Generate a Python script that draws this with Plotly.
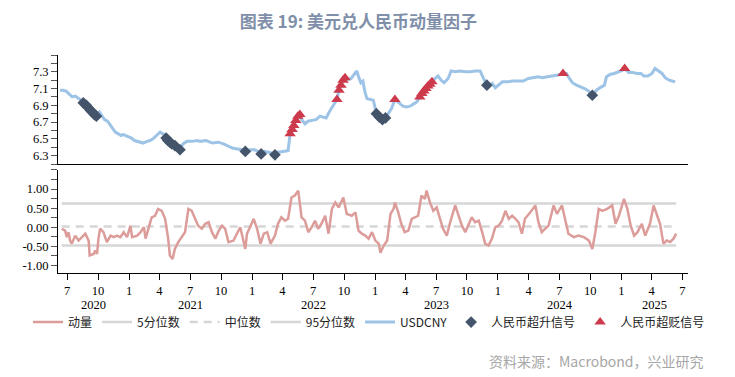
import plotly.graph_objects as go

# ---------------- data ----------------
usd_dates = (
    ["2020-06-10","2020-06-19","2020-06-28","2020-07-10","2020-07-16","2020-07-25","2020-08-03","2020-08-12","2020-08-18","2020-08-27",
     "2020-09-02","2020-09-08","2020-09-14","2020-09-20","2020-09-26","2020-10-05","2020-10-11","2020-10-20","2020-10-29","2020-11-07",
     "2020-11-16","2020-11-21","2020-11-30","2020-12-08","2020-12-15","2020-12-30"]
    + ["2021-01-08","2021-01-17","2021-01-29","2021-02-12","2021-02-23","2021-03-04","2021-03-13","2021-03-25","2021-04-03","2021-04-15",
       "2021-04-21","2021-04-26","2021-05-02","2021-05-08","2021-05-17","2021-05-26","2021-06-01","2021-06-10","2021-06-22","2021-07-07",
       "2021-07-22","2021-07-31","2021-08-18","2021-09-05","2021-09-23","2021-10-08","2021-10-22","2021-11-04","2021-11-18","2021-12-03",
       "2021-12-12","2021-12-27"]
    + ["2022-01-08","2022-01-20","2022-01-28","2022-02-07","2022-02-19","2022-03-01","2022-03-10","2022-03-19","2022-04-03","2022-04-18",
       "2022-04-24","2022-04-30","2022-05-05","2022-05-11","2022-05-17","2022-05-23","2022-05-28","2022-06-07","2022-06-16","2022-06-28",
       "2022-07-10","2022-07-22","2022-08-03","2022-08-09","2022-08-18","2022-08-27","2022-09-05","2022-09-10","2022-09-16","2022-09-22",
       "2022-09-28","2022-10-04","2022-10-13","2022-10-22","2022-10-31","2022-11-08","2022-11-14","2022-11-20","2022-11-26","2022-12-02",
       "2022-12-08","2022-12-18","2022-12-27"]
    + ["2023-01-05","2023-01-14","2023-01-23","2023-02-01","2023-02-10","2023-02-19","2023-03-01","2023-03-07","2023-03-16","2023-03-25",
       "2023-04-03","2023-04-15","2023-04-27","2023-05-05","2023-05-14","2023-05-20","2023-05-26","2023-06-01","2023-06-07","2023-06-13",
       "2023-06-19","2023-06-28","2023-07-07","2023-07-16","2023-07-25","2023-08-06","2023-08-15","2023-08-27","2023-09-11","2023-09-26",
       "2023-10-10","2023-10-25","2023-11-09","2023-11-18","2023-11-29","2023-12-06","2023-12-15","2023-12-24"]
    + ["2024-01-02","2024-01-14","2024-01-29","2024-02-13","2024-03-01","2024-03-16","2024-03-31","2024-04-15","2024-04-30","2024-05-11",
       "2024-05-26","2024-06-10","2024-06-25","2024-07-12","2024-07-22","2024-07-31","2024-08-09","2024-08-21","2024-09-02","2024-09-14",
       "2024-09-26","2024-10-07","2024-10-13","2024-10-22","2024-11-03","2024-11-12","2024-11-18","2024-11-30","2024-12-11","2024-12-23"]
    + ["2025-01-05","2025-01-11","2025-01-23","2025-02-04","2025-02-16","2025-02-28","2025-03-09","2025-03-21","2025-04-02","2025-04-11",
       "2025-04-20","2025-05-02","2025-05-11","2025-05-23","2025-06-01","2025-06-10"]
)
usd_vals = (
    [7.08,7.08,7.07,7.02,7.00,7.01,6.99,6.96,6.93,6.90,
     6.87,6.84,6.82,6.79,6.77,6.82,6.78,6.73,6.71,6.66,
     6.62,6.58,6.56,6.54,6.55,6.53]
    + [6.51,6.48,6.47,6.45,6.47,6.48,6.50,6.54,6.58,6.55,
       6.51,6.48,6.46,6.44,6.42,6.40,6.37,6.44,6.47,6.47,
       6.48,6.47,6.48,6.45,6.46,6.44,6.41,6.39,6.38,6.37,
       6.35,6.37]
    + [6.37,6.35,6.32,6.35,6.34,6.33,6.31,6.34,6.35,6.36,
       6.56,6.61,6.66,6.72,6.77,6.79,6.73,6.68,6.71,6.72,
       6.73,6.77,6.76,6.75,6.82,6.88,6.93,6.97,7.08,7.14,
       7.20,7.23,7.21,7.22,7.27,7.31,7.23,7.17,7.19,7.06,
       6.98,6.97,6.96]
    + [6.80,6.76,6.73,6.75,6.80,6.86,6.97,6.95,6.92,6.89,
       6.88,6.89,6.92,6.94,7.00,7.04,7.07,7.10,7.13,7.15,
       7.18,7.22,7.25,7.20,7.17,7.22,7.31,7.30,7.31,7.30,
       7.30,7.31,7.31,7.23,7.14,7.13,7.16,7.11]
    + [7.14,7.18,7.18,7.19,7.19,7.19,7.22,7.23,7.24,7.23,
       7.24,7.25,7.26,7.28,7.28,7.22,7.17,7.14,7.12,7.10,
       7.07,7.02,7.05,7.09,7.12,7.14,7.24,7.27,7.28,7.30]
    + [7.32,7.34,7.29,7.29,7.28,7.28,7.25,7.25,7.28,7.34,
       7.31,7.28,7.23,7.20,7.19,7.18]
)

appr_signal_dates = ["2020-08-18","2020-08-27","2020-09-02","2020-09-08","2020-09-14","2020-09-20","2020-09-26",
                     "2021-04-21","2021-04-26","2021-05-02","2021-05-08","2021-05-17","2021-06-01",
                     "2021-12-12","2022-01-28","2022-03-10",
                     "2023-01-05","2023-01-14","2023-01-23","2023-02-01",
                     "2023-11-29","2024-10-07"]
depr_signal_dates = ["2022-04-24","2022-04-30","2022-05-05","2022-05-11","2022-05-17","2022-05-23",
                     "2022-09-10","2022-09-16","2022-09-22","2022-09-28","2022-10-04",
                     "2023-03-01",
                     "2023-05-14","2023-05-20","2023-05-26","2023-06-01","2023-06-07","2023-06-13","2023-06-19",
                     "2024-07-12","2025-01-11"]

mom_dates = (
    ["2020-06-15","2020-06-25","2020-06-30","2020-07-05","2020-07-10","2020-07-15","2020-07-25","2020-08-04","2020-08-14","2020-08-24",
     "2020-09-03","2020-09-06","2020-09-18","2020-09-23","2020-09-28","2020-10-02","2020-10-07","2020-10-17","2020-10-27","2020-11-07",
     "2020-11-16","2020-11-26","2020-12-06","2020-12-16","2020-12-26"]
    + ["2021-01-05","2021-01-10","2021-01-25","2021-02-04","2021-02-14","2021-02-19","2021-02-28","2021-03-09","2021-03-19","2021-03-28",
       "2021-04-08","2021-04-18","2021-04-27","2021-05-02","2021-05-10","2021-05-17","2021-05-27","2021-06-06","2021-06-16","2021-06-26",
       "2021-07-06","2021-07-16","2021-07-25","2021-08-05","2021-08-15","2021-08-25","2021-09-04","2021-09-14","2021-09-24","2021-10-04",
       "2021-10-13","2021-10-23","2021-11-07","2021-11-17","2021-11-27","2021-12-12","2021-12-17","2021-12-26"]
    + ["2022-01-06","2022-01-16","2022-01-26","2022-02-05","2022-02-15","2022-02-25","2022-03-10","2022-03-19","2022-03-29","2022-04-09",
       "2022-04-18","2022-04-28","2022-05-08","2022-05-18","2022-05-28","2022-06-07","2022-06-17","2022-06-27","2022-07-07","2022-07-16",
       "2022-07-26","2022-08-06","2022-08-16","2022-08-26","2022-09-05","2022-09-15","2022-09-29","2022-10-09","2022-10-24","2022-11-04",
       "2022-11-13","2022-11-23","2022-12-03","2022-12-13","2022-12-23"]
    + ["2023-01-02","2023-01-12","2023-01-17","2023-01-27","2023-02-06","2023-02-16","2023-02-25","2023-03-01","2023-03-11","2023-03-20",
       "2023-03-30","2023-04-10","2023-04-20","2023-04-29","2023-05-09","2023-05-19","2023-05-29","2023-06-03","2023-06-13","2023-06-23",
       "2023-07-03","2023-07-13","2023-07-22","2023-08-02","2023-08-12","2023-08-27","2023-09-06","2023-09-16","2023-09-26","2023-10-05",
       "2023-10-15","2023-10-25","2023-11-05","2023-11-15","2023-11-24","2023-12-04","2023-12-14","2023-12-24"]
    + ["2024-01-03","2024-01-13","2024-01-23","2024-02-02","2024-02-12","2024-02-22","2024-03-02","2024-03-12","2024-03-21","2024-04-06",
       "2024-04-21","2024-04-30","2024-05-10","2024-05-20","2024-05-30","2024-06-14","2024-06-24","2024-07-09","2024-07-19","2024-07-28",
       "2024-08-13","2024-08-27","2024-09-12","2024-09-27","2024-10-07","2024-10-16","2024-10-26","2024-11-06","2024-11-20","2024-12-05",
       "2024-12-15","2024-12-25"]
    + ["2025-01-09","2025-01-19","2025-01-29","2025-02-08","2025-02-18","2025-03-03","2025-03-13","2025-03-27","2025-04-07","2025-04-17",
       "2025-04-26","2025-05-06","2025-05-16","2025-05-26","2025-06-05","2025-06-13"]
)
mom_vals = (
    [-0.04,-0.09,-0.26,-0.13,-0.35,-0.43,-0.22,-0.35,-0.26,-0.17,
     -0.35,-0.74,-0.70,-0.61,-0.70,-0.30,-0.04,-0.13,-0.39,-0.22,
     -0.26,-0.22,-0.26,-0.13,-0.26]
    + [0.04,-0.26,-0.22,-0.13,0.00,-0.30,-0.04,0.26,0.30,0.48,
       0.43,0.22,-0.30,-0.74,-0.83,-0.57,-0.39,-0.26,-0.13,0.48,
       0.43,0.22,0.04,-0.04,0.09,0.13,-0.13,-0.30,-0.09,0.04,
       -0.04,-0.39,-0.35,-0.17,0.00,-0.57,-0.17,0.00]
    + [0.22,-0.04,-0.43,-0.17,-0.13,-0.43,-0.22,0.09,0.26,0.17,
       0.22,0.78,0.83,0.96,0.26,0.17,-0.13,0.00,0.17,-0.04,
       0.09,0.30,-0.17,0.48,0.65,0.52,0.78,0.35,0.30,0.39,
       -0.09,-0.17,-0.22,-0.30,-0.13]
    + [-0.35,-0.43,-0.67,-0.48,-0.35,0.35,0.48,0.65,0.39,0.09,
       -0.13,-0.09,0.22,0.26,0.30,0.83,0.74,0.96,0.65,0.43,
       0.52,0.22,-0.04,-0.22,0.13,0.57,0.30,0.04,-0.13,0.04,
       0.26,0.13,0.17,-0.13,-0.43,-0.48,-0.30,0.00]
    + [0.04,0.17,0.43,0.22,0.30,0.22,0.13,-0.17,0.22,0.39,
       0.57,0.13,-0.13,-0.04,0.04,0.57,0.35,0.57,0.22,-0.17,
       -0.26,-0.22,-0.26,-0.35,-0.57,-0.13,0.48,0.43,0.48,0.57,
       0.09,0.30]
    + [0.74,0.48,0.04,-0.22,-0.13,0.09,-0.22,0.09,0.57,0.30,
       0.09,-0.43,-0.35,-0.39,-0.30,-0.17]
)

pct5, pct50, pct95 = -0.48, 0.02, 0.62

x_tick_dates = ["2020-07-01","2020-10-01","2021-01-01","2021-04-01","2021-07-01","2021-10-01",
                "2022-01-01","2022-04-01","2022-07-01","2022-10-01","2023-01-01","2023-04-01",
                "2023-07-01","2023-10-01","2024-01-01","2024-04-01","2024-07-01","2024-10-01",
                "2025-01-01","2025-04-01","2025-07-01"]
x_tick_text = ["7","10","1","4","7","10","1","4","7","10","1","4","7","10","1","4","7","10","1","4","7"]
year_labels = ["2020","2021","2022","2023","2024","2025"]
year_label_dates = ["2020-09-17","2021-07-02","2022-07-02","2023-07-02","2024-07-02","2025-04-09"]

y1_ticks = [6.3, 6.5, 6.7, 6.9, 7.1, 7.3]
y1_text = ["6.3", "6.5", "6.7", "6.9", "7.1", "7.3"]
y2_ticks = [-1.0, -0.5, 0.0, 0.5, 1.0]
y2_text = ["-1.00", "-0.50", "0.00", "0.50", "1.00"]

# ---------------- figure ----------------
lookup = dict(zip(usd_dates, usd_vals))
appr_vals = [lookup[d] for d in appr_signal_dates]
depr_vals = [lookup[d] for d in depr_signal_dates]

C_MOM = "#dc9c99"
C_PCT = "#d6d6d6"
C_USD = "#9dc3e6"
C_UP = "#44546a"
C_DN = "#cc3a4c"

fig = go.Figure()
span = [mom_dates[0], mom_dates[-1]]
fig.add_trace(go.Scatter(x=span, y=[pct5, pct5], mode="lines", name="5分位数",
                         line=dict(color=C_PCT, width=2.5), xaxis="x2", yaxis="y2", legendrank=2))
fig.add_trace(go.Scatter(x=span, y=[pct50, pct50], mode="lines", name="中位数",
                         line=dict(color=C_PCT, width=2.5, dash="8px,6px"), xaxis="x2", yaxis="y2", legendrank=3))
fig.add_trace(go.Scatter(x=span, y=[pct95, pct95], mode="lines", name="95分位数",
                         line=dict(color=C_PCT, width=2.5), xaxis="x2", yaxis="y2", legendrank=4))
fig.add_trace(go.Scatter(x=mom_dates, y=mom_vals, mode="lines", name="动量",
                         line=dict(color=C_MOM, width=2.5), xaxis="x2", yaxis="y2", legendrank=1))
fig.add_trace(go.Scatter(x=usd_dates, y=usd_vals, mode="lines", name="USDCNY",
                         line=dict(color=C_USD, width=3), xaxis="x", yaxis="y", legendrank=5))
fig.add_trace(go.Scatter(x=appr_signal_dates, y=appr_vals, mode="markers", name="人民币超升信号",
                         marker=dict(symbol="diamond", size=9, color=C_UP), xaxis="x", yaxis="y",
                         legend="legend2", legendrank=6))
fig.add_trace(go.Scatter(x=depr_signal_dates, y=depr_vals, mode="markers", name="人民币超贬信号",
                         marker=dict(symbol="triangle-up", size=10, color=C_DN), xaxis="x", yaxis="y",
                         legend="legend2", legendrank=7))

tick_font = dict(family="Liberation Serif", size=12.5, color="#000000")
legend_font = dict(family="Noto Sans CJK SC", size=12, color="#222222")
x_range = ["2020-06-04", "2025-07-18"]

annotations = []
for lab, d in zip(year_labels, year_label_dates):
    annotations.append(dict(x=d, y=-0.1445, xref="x2", yref="paper", text=lab, showarrow=False,
                            font=tick_font, xanchor="center", yanchor="middle"))
annotations.append(dict(x=1.0286, y=-0.404, xref="paper", yref="paper", text="资料来源：Macrobond，兴业研究",
                        showarrow=False, xanchor="right", yanchor="middle",
                        font=dict(family="Noto Sans CJK SC", size=14, color="#a6a6a6")))

# the page body adds an 8px margin: figure is 8px smaller so it ends at the window edge
fig.update_layout(
    width=727, height=369, autosize=False,
    margin=dict(l=50, r=47, t=47, b=104),
    paper_bgcolor="white", plot_bgcolor="white",
    title=dict(text="<b>图表 19: 美元兑人民币动量因子</b>", x=0.482, xref="container", xanchor="center",
               y=0.962, yref="container", yanchor="middle",
               font=dict(family="Noto Sans CJK SC", size=17, color="#7f8fa9")),
    showlegend=True,
    legend=dict(orientation="h", x=-0.0476, xanchor="left", y=-0.225, yanchor="middle",
                font=legend_font, itemwidth=30, tracegroupgap=0, bgcolor="rgba(0,0,0,0)"),
    legend2=dict(orientation="h", x=0.624, xanchor="left", y=-0.225, yanchor="middle",
                 font=legend_font, itemwidth=30, tracegroupgap=0, bgcolor="rgba(0,0,0,0)"),
    xaxis=dict(domain=[0, 1], anchor="y", type="date", range=x_range, showline=True, linecolor="black",
               linewidth=1, ticks="", showticklabels=False, showgrid=False, zeroline=False),
    xaxis2=dict(domain=[0, 1], anchor="y2", type="date", range=x_range, matches="x", showline=True,
                linecolor="black", linewidth=1, ticks="outside", ticklen=6, tickcolor="black",
                tickmode="array", tickvals=x_tick_dates, ticktext=x_tick_text, tickfont=tick_font,
                showgrid=False, zeroline=False),
    yaxis=dict(domain=[0.5, 1], anchor="x", range=[6.2, 7.5], showline=True, linecolor="black",
               linewidth=1, ticks="outside", ticklen=6, tickcolor="#555555", tickmode="array",
               tickvals=y1_ticks, ticktext=y1_text, tickfont=tick_font, showgrid=False, zeroline=False,
               minor=dict(dtick=0.1, tick0=6.2, ticks="outside", ticklen=6, tickcolor="#555555", showgrid=False)),
    yaxis2=dict(domain=[0, 0.4725], anchor="x2", range=[-1.2, 1.5], showline=True, linecolor="black",
                linewidth=1, ticks="outside", ticklen=6, tickcolor="#555555", tickmode="array",
                tickvals=y2_ticks, ticktext=y2_text, tickfont=tick_font, showgrid=False, zeroline=False,
                minor=dict(dtick=0.25, tick0=0, ticks="outside", ticklen=6, tickcolor="#555555", showgrid=False)),
    annotations=annotations,
)

fig.write_html("out.html")
